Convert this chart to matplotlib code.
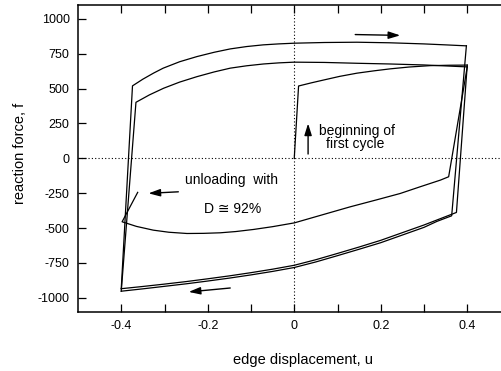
import numpy as np
import matplotlib
matplotlib.use("Agg")
import matplotlib.pyplot as plt

plt.rcParams['font.family'] = ['Liberation Sans', 'DejaVu Sans']
plt.rcParams['axes.unicode_minus'] = False

# first loading branch (virgin cycle)
first_u = [0.0, 0.010, 0.040, 0.068, 0.105, 0.145, 0.185, 0.222, 0.265, 0.314, 0.360, 0.400]
first_f = [0, 519, 542, 562, 588, 611, 628, 642, 655, 665, 668, 669]

# unloading from first peak, then compression branch A
lowA_u = [0.400, 0.375, 0.340, 0.300, 0.250, 0.200, 0.150, 0.100, 0.050, 0.0,
          -0.050, -0.100, -0.150, -0.200, -0.250, -0.300, -0.350, -0.400]
lowA_f = [669, -388, -430, -478, -533, -588, -636, -682, -727, -767,
          -795, -820, -843, -864, -884, -902, -919, -935]

# reloading + outer tension branch
top1_u = [-0.400, -0.374, -0.350, -0.325, -0.303, -0.265, -0.225, -0.185, -0.148,
          -0.110, -0.072, -0.036, 0.0, 0.070, 0.145, 0.220, 0.299, 0.350, 0.398]
top1_f = [-935, 520, 568, 612, 647, 693, 730, 761, 785,
          802, 814, 821, 826, 831, 833, 829, 821, 814, 807]

# unloading + compression branch B
lowB_u = [0.398, 0.364, 0.330, 0.300, 0.250, 0.200, 0.150, 0.100, 0.050, 0.0,
          -0.050, -0.100, -0.150, -0.200, -0.250, -0.300, -0.350, -0.400]
lowB_f = [807, -412, -452, -495, -550, -605, -652, -698, -743, -783,
          -811, -836, -859, -880, -900, -918, -936, -953]

# reloading + inner tension branch
top2_u = [-0.400, -0.366, -0.335, -0.302, -0.265, -0.225, -0.185, -0.148, -0.110,
          -0.071, -0.035, 0.0, 0.070, 0.145, 0.220, 0.299, 0.350, 0.400]
top2_f = [-953, 402, 455, 503, 547, 586, 620, 647, 664,
          677, 685, 690, 688, 682, 677, 670, 663, 656]

# last branch, unloading with damage
dmg_u = [0.400, 0.357, 0.338, 0.290, 0.245, 0.190, 0.129, 0.065, 0.0, -0.050,
         -0.094, -0.135, -0.171, -0.210, -0.248, -0.290, -0.326, -0.365, -0.398, -0.362]
dmg_f = [656, -132, -156, -205, -252, -298, -348, -405, -463, -490,
         -510, -525, -534, -538, -539, -530, -515, -488, -455, -244]

xticks = [-0.4, -0.2, 0.0, 0.2, 0.4]
xtick_labels = ["-0.4", "-0.2", "0", "0.2", "0.4"]
xminor = [-0.3, -0.1, 0.1, 0.3]
yticks = [1000, 750, 500, 250, 0, -250, -500, -750, -1000]
ytick_labels = ["1000", "750", "500", "250", "0", "-250", "-500", "-750", "-1000"]

fig = plt.figure(figsize=(5.01, 3.71), dpi=100)
ax = fig.add_axes([78 / 501, 1 - 311.7 / 371, 432.5 / 501, 306.7 / 371])

ax.axhline(0, color='k', lw=0.8, ls=(0, (1, 2)))
ax.axvline(0, color='k', lw=0.8, ls=(0, (1, 2)))

for u, f in [(first_u, first_f), (lowA_u, lowA_f), (top1_u, top1_f),
             (lowB_u, lowB_f), (top2_u, top2_f), (dmg_u, dmg_f)]:
    ax.plot(u, f, color='k', lw=0.9)

ax.set_xlim(-0.5, 0.5)
ax.set_ylim(-1100, 1100)
ax.set_xticks(xticks)
ax.set_xticklabels(xtick_labels)
ax.set_xticks(xminor, minor=True)
ax.set_yticks(yticks)
ax.set_yticklabels(ytick_labels)
ax.tick_params(which='both', direction='in', top=True, right=True,
               length=6, width=0.9, labelsize=9, pad=6)
for s in ax.spines.values():
    s.set_linewidth(1.1)

# arrows
aprops = dict(arrowstyle='-|>,head_length=0.7,head_width=0.22', color='k',
              lw=1.0, shrinkA=0, shrinkB=0, mutation_scale=10)
ax.annotate('', xy=(0.245, 882), xytext=(0.141, 888), arrowprops=aprops)
ax.annotate('', xy=(-0.244, -958), xytext=(-0.148, -930), arrowprops=aprops)
ax.annotate('', xy=(0.032, 250), xytext=(0.032, 31), arrowprops=aprops)
ax.annotate('', xy=(-0.337, -251), xytext=(-0.268, -240), arrowprops=aprops)

# labels
ax.text(0.145, 171, "beginning of", ha='center', va='baseline', fontsize=10)
ax.text(0.141, 76, "first cycle", ha='center', va='baseline', fontsize=10)
ax.text(-0.146, -187, "unloading  with", ha='center', va='baseline', fontsize=10)
ax.text(-0.142, -395, "D \u2245 92%", ha='center', va='baseline', fontsize=10)

fig.text(303 / 501, 1 - 360 / 371, "edge displacement, u", ha='center', va='center',
         fontsize=10.5)
fig.text(20 / 501, 1 - 153.5 / 371, "reaction force, f", ha='center', va='center',
         rotation=90, fontsize=10.5)

fig.savefig("out.png", dpi=100)
